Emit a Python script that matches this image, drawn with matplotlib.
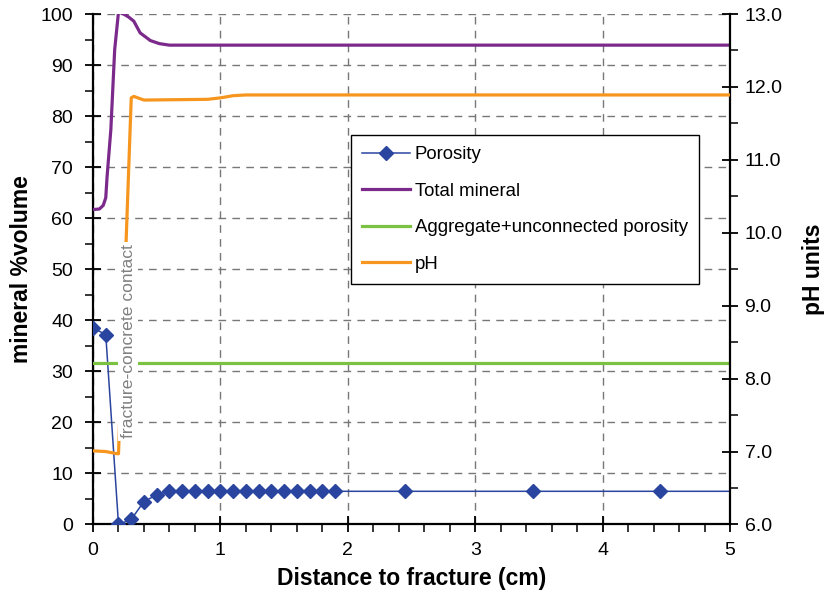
import numpy as np
import matplotlib.pyplot as plt
from matplotlib.ticker import MultipleLocator, FormatStrFormatter

plt.rcParams['font.family'] = ['Liberation Sans', 'DejaVu Sans']

# Porosity (% volume) with markers
por_x = [0, 0.1, 0.2, 0.3, 0.4, 0.5, 0.6, 0.7, 0.8, 0.9, 1.0, 1.1, 1.2, 1.3,
         1.4, 1.5, 1.6, 1.7, 1.8, 1.9, 2.45, 3.45, 4.45, 5.45]
por_y = [38.5, 37.2, 0.0, 1.0, 4.5, 5.8, 6.5, 6.5, 6.5, 6.5, 6.5, 6.5, 6.5, 6.5,
         6.5, 6.5, 6.5, 6.5, 6.5, 6.5, 6.5, 6.5, 6.5, 6.5]

# Total mineral (% volume)
min_x = [0, 0.05, 0.08, 0.1, 0.11, 0.14, 0.17, 0.2, 0.24, 0.28, 0.32, 0.37,
         0.45, 0.52, 0.6, 5.0]
min_y = [61.7, 61.8, 62.5, 64.0, 68.0, 77.4, 93.0, 100.4, 100.0, 99.4, 98.6,
         96.3, 94.8, 94.2, 93.9, 93.9]

# Aggregate + unconnected porosity (% volume)
agg_x = [0, 5.0]
agg_y = [31.6, 31.6]

# pH (right axis)
ph_x = [0, 0.1, 0.19, 0.2, 0.3, 0.32, 0.4, 0.9, 1.0, 1.1, 1.2, 5.0]
ph_y = [7.01, 7.00, 6.97, 6.97, 11.85, 11.87, 11.82, 11.83, 11.85, 11.88,
        11.89, 11.89]

blue = '#2a45a0'
purple = '#7b2a8c'
green = '#7cc242'
orange = '#f7961e'

fig = plt.figure(figsize=(8.35, 5.96), dpi=100)
ax = fig.add_axes([0.1114, 0.12, 0.7629, 0.8565])
ax2 = ax.twinx()

grid_kw = dict(color='#777777', linewidth=1.0, linestyle=(0, (5.5, 4.5)))

ax.plot(por_x, por_y, color=blue, linewidth=1.1, marker='D', markersize=7,
        markerfacecolor=blue, markeredgecolor=blue, label='Porosity', zorder=3)
ax.plot(min_x, min_y, color=purple, linewidth=2.3, label='Total mineral', zorder=3)
ax.plot(agg_x, agg_y, color=green, linewidth=2.3,
        label='Aggregate+unconnected porosity', zorder=3)
ph_line, = ax2.plot(ph_x, ph_y, color=orange, linewidth=2.3, label='pH', zorder=3)

ax.set_xlim(0, 5)
ax.set_ylim(0, 100)
ax2.set_ylim(6, 13)

ax.xaxis.set_major_locator(MultipleLocator(1))
ax.xaxis.set_minor_locator(MultipleLocator(0.2))
ax.yaxis.set_major_locator(MultipleLocator(10))
ax.yaxis.set_minor_locator(MultipleLocator(5))
ax2.yaxis.set_major_locator(MultipleLocator(1))
ax2.yaxis.set_minor_locator(MultipleLocator(0.5))
ax2.yaxis.set_major_formatter(FormatStrFormatter('%.1f'))

ax.grid(True, which='major', **grid_kw)
ax.set_axisbelow(True)

for a in (ax, ax2):
    for s in a.spines.values():
        s.set_visible(False)
ax.spines['left'].set_visible(True)
ax.spines['bottom'].set_visible(True)
ax2.spines['right'].set_visible(True)
for s in (ax.spines['left'], ax.spines['bottom'], ax2.spines['right']):
    s.set_linewidth(1.6)
    s.set_color('black')

ax.tick_params(which='major', direction='inout', length=11, width=1.3,
               labelsize=14, pad=7)
ax.tick_params(axis='y', which='major', pad=9)
ax.tick_params(which='minor', direction='out', length=6, width=1.1)
ax2.tick_params(which='major', direction='inout', length=11, width=1.3,
                labelsize=14, pad=5)
ax2.tick_params(which='minor', direction='out', length=6, width=1.1)

ax.set_xlabel('Distance to fracture (cm)', fontsize=16.5, fontweight='bold',
              labelpad=6)
ax.set_ylabel('mineral %volume', fontsize=16.5, fontweight='bold', labelpad=5)
ax2.set_ylabel('pH units', fontsize=16.5, fontweight='bold', labelpad=14)

# contact label sits on a white box over the lines
ax2.text(0.275, 35.9, 'fracture-concrete contact', transform=ax.transData,
         rotation=90, ha='center', va='center', fontsize=12.6, color='#808080',
         zorder=10,
         bbox=dict(facecolor='white', edgecolor='none', boxstyle='square,pad=0.15'))

handles = ax.get_lines()[:3] + [ph_line]
leg = ax2.legend(handles, [h.get_label() for h in handles],
                 loc='upper left', bbox_to_anchor=(0.4046, 0.763),
                 fontsize=13.4, frameon=True, fancybox=False,
                 edgecolor='black', framealpha=1, borderpad=0.6,
                 labelspacing=1.05, handlelength=2.6, handletextpad=0.25,
                 borderaxespad=0)
leg.get_frame().set_linewidth(1.0)
leg.set_zorder(20)

fig.savefig('out.png', dpi=100)
